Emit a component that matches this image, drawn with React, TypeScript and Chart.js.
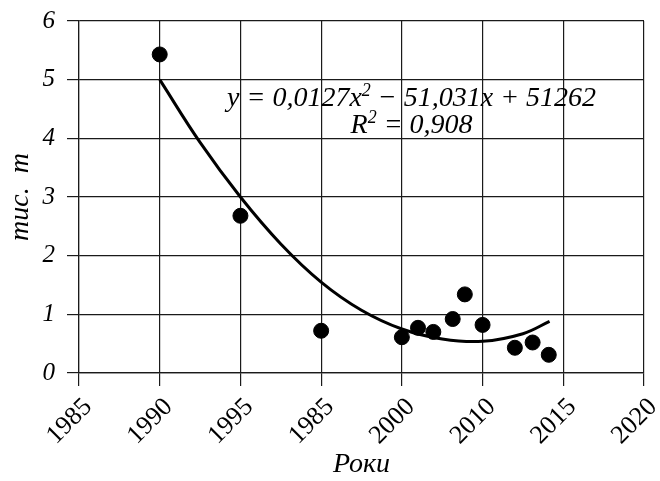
import React, { useEffect, useRef } from 'react';
import { Chart, registerables } from 'chart.js';

Chart.register(...registerables);

const xTickLabels = ['1985', '1990', '1995', '1985', '2000', '2010', '2015', '2020'];
const yTickValues = [0, 1, 2, 3, 4, 5, 6];

const pointX = [1, 2, 3, 4, 4.2, 4.39, 4.63, 4.78, 5.0, 5.4, 5.62, 5.82];
const pointY = [5.43, 2.68, 0.72, 0.61, 0.77, 0.7, 0.92, 1.34, 0.82, 0.43, 0.52, 0.31];

const trendX = [1, 1.5, 2, 2.5, 3, 3.5, 4, 4.5, 5, 5.5, 5.83];
const trendY = [5.0, 3.93, 3.0, 2.2, 1.55, 1.07, 0.75, 0.58, 0.54, 0.67, 0.88];

const xTitle = 'Роки';
const yTitle = 'тис.  т';
const eqLine1 = [
  { t: 'y = 0,0127x', sup: false },
  { t: '2', sup: true },
  { t: ' − 51,031x + 51262', sup: false },
];
const eqLine2 = [
  { t: 'R', sup: false },
  { t: '2', sup: true },
  { t: ' = 0,908', sup: false },
];
const eqAnchor = { x: 4.12, y1: 4.55, y2: 4.09 };

const FONT = "'Liberation Serif', 'DejaVu Serif', serif";
const GRID = '#1a1a1a';

const equationPlugin = {
  id: 'equation',
  afterDatasetsDraw(chart: any) {
    const { ctx, scales } = chart;
    const cx = scales.x.getPixelForValue(eqAnchor.x);
    const drawLine = (segs: { t: string; sup: boolean }[], yVal: number) => {
      const base = scales.y.getPixelForValue(yVal);
      ctx.save();
      ctx.fillStyle = '#000';
      ctx.textBaseline = 'alphabetic';
      ctx.textAlign = 'left';
      const fontOf = (sup: boolean) => (sup ? `italic 18px ${FONT}` : `italic 28px ${FONT}`);
      const widths = segs.map((s) => {
        ctx.font = fontOf(s.sup);
        return ctx.measureText(s.t).width;
      });
      const total = widths.reduce((a, b) => a + b, 0);
      let x = cx - total / 2;
      segs.forEach((s, i) => {
        ctx.font = fontOf(s.sup);
        ctx.fillText(s.t, x, s.sup ? base - 10 : base);
        x += widths[i];
      });
      ctx.restore();
    };
    drawLine(eqLine1, eqAnchor.y1);
    drawLine(eqLine2, eqAnchor.y2);
  },
};

export default function App() {
  const ref = useRef<HTMLCanvasElement>(null);
  useEffect(() => {
    document.body.style.margin = '0';
    const chart = new Chart(ref.current as HTMLCanvasElement, {
      type: 'scatter',
      data: {
        datasets: [
          {
            type: 'line',
            data: trendX.map((x, i) => ({ x, y: trendY[i] })),
            borderColor: '#000',
            borderWidth: 3,
            pointRadius: 0,
            tension: 0.4,
            fill: false,
          } as any,
          {
            type: 'scatter',
            data: pointX.map((x, i) => ({ x, y: pointY[i] })),
            backgroundColor: '#000',
            borderColor: '#000',
            pointRadius: 7.5,
          },
        ],
      },
      options: {
        responsive: false,
        animation: false,
        layout: { padding: { left: 0, top: 21, right: 16, bottom: 0 } },
        plugins: { legend: { display: false }, tooltip: { enabled: false } },
        scales: {
          x: {
            type: 'linear',
            min: 0,
            max: xTickLabels.length - 1,
            afterBuildTicks: (scale: any) => {
              scale.ticks = xTickLabels.map((_, i) => ({ value: i }));
            },
            afterFit: (scale: any) => {
              scale.height = 108;
              scale.paddingLeft = 0;
              scale.paddingRight = 0;
            },
            grid: { color: GRID, lineWidth: 1.2, tickLength: 13, tickColor: GRID },
            border: { color: GRID, width: 1.2 },
            ticks: {
              minRotation: 45,
              maxRotation: 45,
              autoSkip: false,
              padding: 6,
              labelOffset: 9,
              color: '#000',
              font: { family: FONT, size: 26 },
              callback: (v: any) => xTickLabels[Math.round(Number(v))],
            },
            title: {
              display: true,
              text: xTitle,
              color: '#000',
              font: { family: FONT, size: 28, style: 'italic' },
              padding: { top: 0, bottom: 0 },
            },
          },
          y: {
            type: 'linear',
            min: 0,
            max: 6,
            afterBuildTicks: (scale: any) => {
              scale.ticks = yTickValues.map((v) => ({ value: v }));
            },
            afterFit: (scale: any) => {
              scale.width = 79;
              scale.paddingTop = 0;
              scale.paddingBottom = 0;
            },
            grid: { color: GRID, lineWidth: 1.2, tickLength: 12, tickColor: GRID },
            border: { color: GRID, width: 1.2 },
            ticks: {
              padding: 12,
              color: '#000',
              font: { family: FONT, size: 25, style: 'italic' },
            },
            title: {
              display: true,
              text: yTitle,
              color: '#000',
              font: { family: FONT, size: 28, style: 'italic' },
              padding: { top: 4, bottom: 0 },
            },
          },
        },
      },
      plugins: [equationPlugin],
    });
    return () => chart.destroy();
  }, []);
  return <canvas ref={ref} width={660} height={481} style={{ display: 'block' }} />;
}
